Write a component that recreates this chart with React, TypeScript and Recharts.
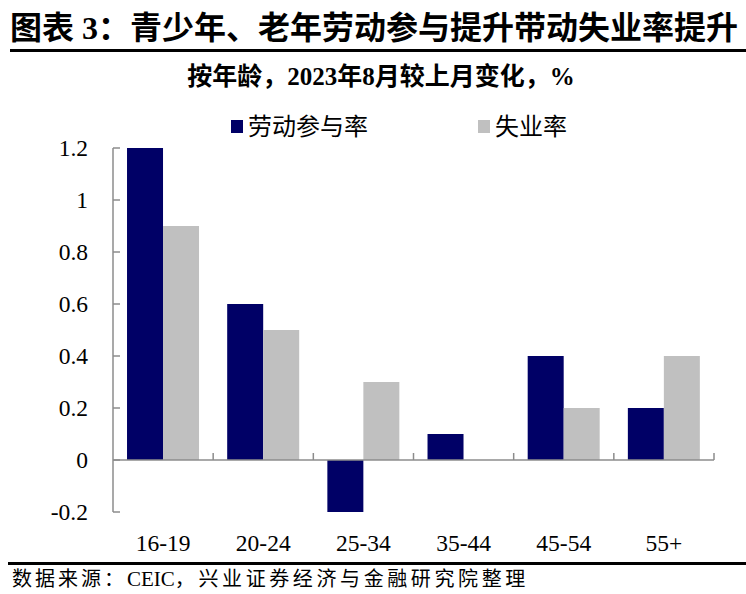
import React from "react"
import { BarChart, Bar, XAxis, YAxis, ReferenceLine, Legend } from "recharts"

// age groups
const categories = ["16-19", "20-24", "25-34", "35-44", "45-54", "55+"]
// change vs. previous month, %
const laborParticipation = [1.2, 0.6, -0.2, 0.1, 0.4, 0.2]
const unemploymentRate = [0.9, 0.5, 0.3, 0, 0.2, 0.4]
const yTicks = [-0.2, 0, 0.2, 0.4, 0.6, 0.8, 1, 1.2]

const NAVY = "#000066"
const GRAY = "#C0C0C0"
const AXIS = "#8C8C8C"
const FONT = "'Liberation Serif', 'Times New Roman', 'Noto Sans CJK SC', serif"

const data = categories.map((age, i) => ({
  age,
  labor: laborParticipation[i],
  unemp: unemploymentRate[i],
}))

// zero line with small upward ticks at the category boundaries
const ZeroLine = (props: any) => {
  const { x1, y1, x2 } = props
  const step = (x2 - x1) / categories.length
  return (
    <g>
      <line x1={x1} y1={y1} x2={x2} y2={y1} stroke={AXIS} strokeWidth={1.5} />
      {categories.map((_, i) => (
        <line
          key={i}
          x1={x1 + step * (i + 1)}
          x2={x1 + step * (i + 1)}
          y1={y1}
          y2={y1 - 7}
          stroke={AXIS}
          strokeWidth={1.5}
        />
      ))}
    </g>
  )
}

const LegendContent = () => (
  <div style={{ position: "relative", height: 30, fontFamily: FONT, fontSize: 24, color: "#000" }}>
    <span style={{ position: "absolute", left: 231, top: 8, width: 12, height: 13, background: NAVY }} />
    <span style={{ position: "absolute", left: 248, top: 0, lineHeight: "30px" }}>劳动参与率</span>
    <span style={{ position: "absolute", left: 478, top: 8, width: 12, height: 13, background: GRAY }} />
    <span style={{ position: "absolute", left: 495, top: 0, lineHeight: "30px" }}>失业率</span>
  </div>
)

export default function App() {
  return (
    <div style={{ position: "absolute", left: 0, top: 0, width: 746, height: 594, background: "#fff", fontFamily: FONT }}>
      <div
        style={{
          position: "absolute",
          left: 10,
          top: 8,
          fontSize: 32,
          fontWeight: "bold",
          lineHeight: "40px",
          whiteSpace: "nowrap",
        }}
      >
        图表 3：青少年、老年劳动参与提升带动失业率提升
      </div>
      <div style={{ position: "absolute", left: 10, right: 0, top: 49, height: 3, background: "#000" }} />
      <div
        style={{
          position: "absolute",
          left: 0,
          width: 762,
          top: 62,
          textAlign: "center",
          fontSize: 25,
          fontWeight: "bold",
          lineHeight: "30px",
        }}
      >
        按年龄，2023年8月较上月变化，%
      </div>

      <div style={{ position: "absolute", left: 0, top: 0 }}>
        <BarChart
          width={746}
          height={594}
          data={data}
          margin={{ top: 118, right: 32, bottom: 42, left: 0 }}
          barCategoryGap="14%"
          barGap={0}
        >
          <XAxis
            dataKey="age"
            axisLine={false}
            tickLine={false}
            tickSize={8}
            tickMargin={14}
            height={40}
            interval={0}
            tick={{ fill: "#000", fontSize: 23.5, fontFamily: FONT }}
          />
          <YAxis
            domain={[-0.2, 1.2]}
            ticks={yTicks}
            width={113}
            interval={0}
            axisLine={{ stroke: AXIS, strokeWidth: 1.5 }}
            tickLine={{ stroke: AXIS, strokeWidth: 1.5 }}
            tickSize={-7}
            tickMargin={32}
            tick={{ fill: "#000", fontSize: 23.5, fontFamily: FONT }}
          />
          <Legend
            verticalAlign="top"
            height={30}
            content={<LegendContent />}
            wrapperStyle={{ top: 112, left: 0, width: 746 }}
          />
          <Bar dataKey="labor" name="劳动参与率" fill={NAVY} isAnimationActive={false} />
          <Bar dataKey="unemp" name="失业率" fill={GRAY} isAnimationActive={false} />
          <ReferenceLine y={0} shape={<ZeroLine />} />
        </BarChart>
      </div>

      <div style={{ position: "absolute", left: 8, right: 0, top: 562, height: 3, background: "#000" }} />
      <div
        style={{
          position: "absolute",
          left: 12,
          top: 566,
          fontSize: 20,
          lineHeight: "26px",
          whiteSpace: "nowrap",
        }}
      >
        <span style={{ letterSpacing: 3 }}>数据来源：</span>
        <span style={{ fontSize: 21 }}>CEIC</span>
        <span style={{ letterSpacing: 3.6 }}>，兴业证券经济与金融研究院整理</span>
      </div>
    </div>
  )
}
